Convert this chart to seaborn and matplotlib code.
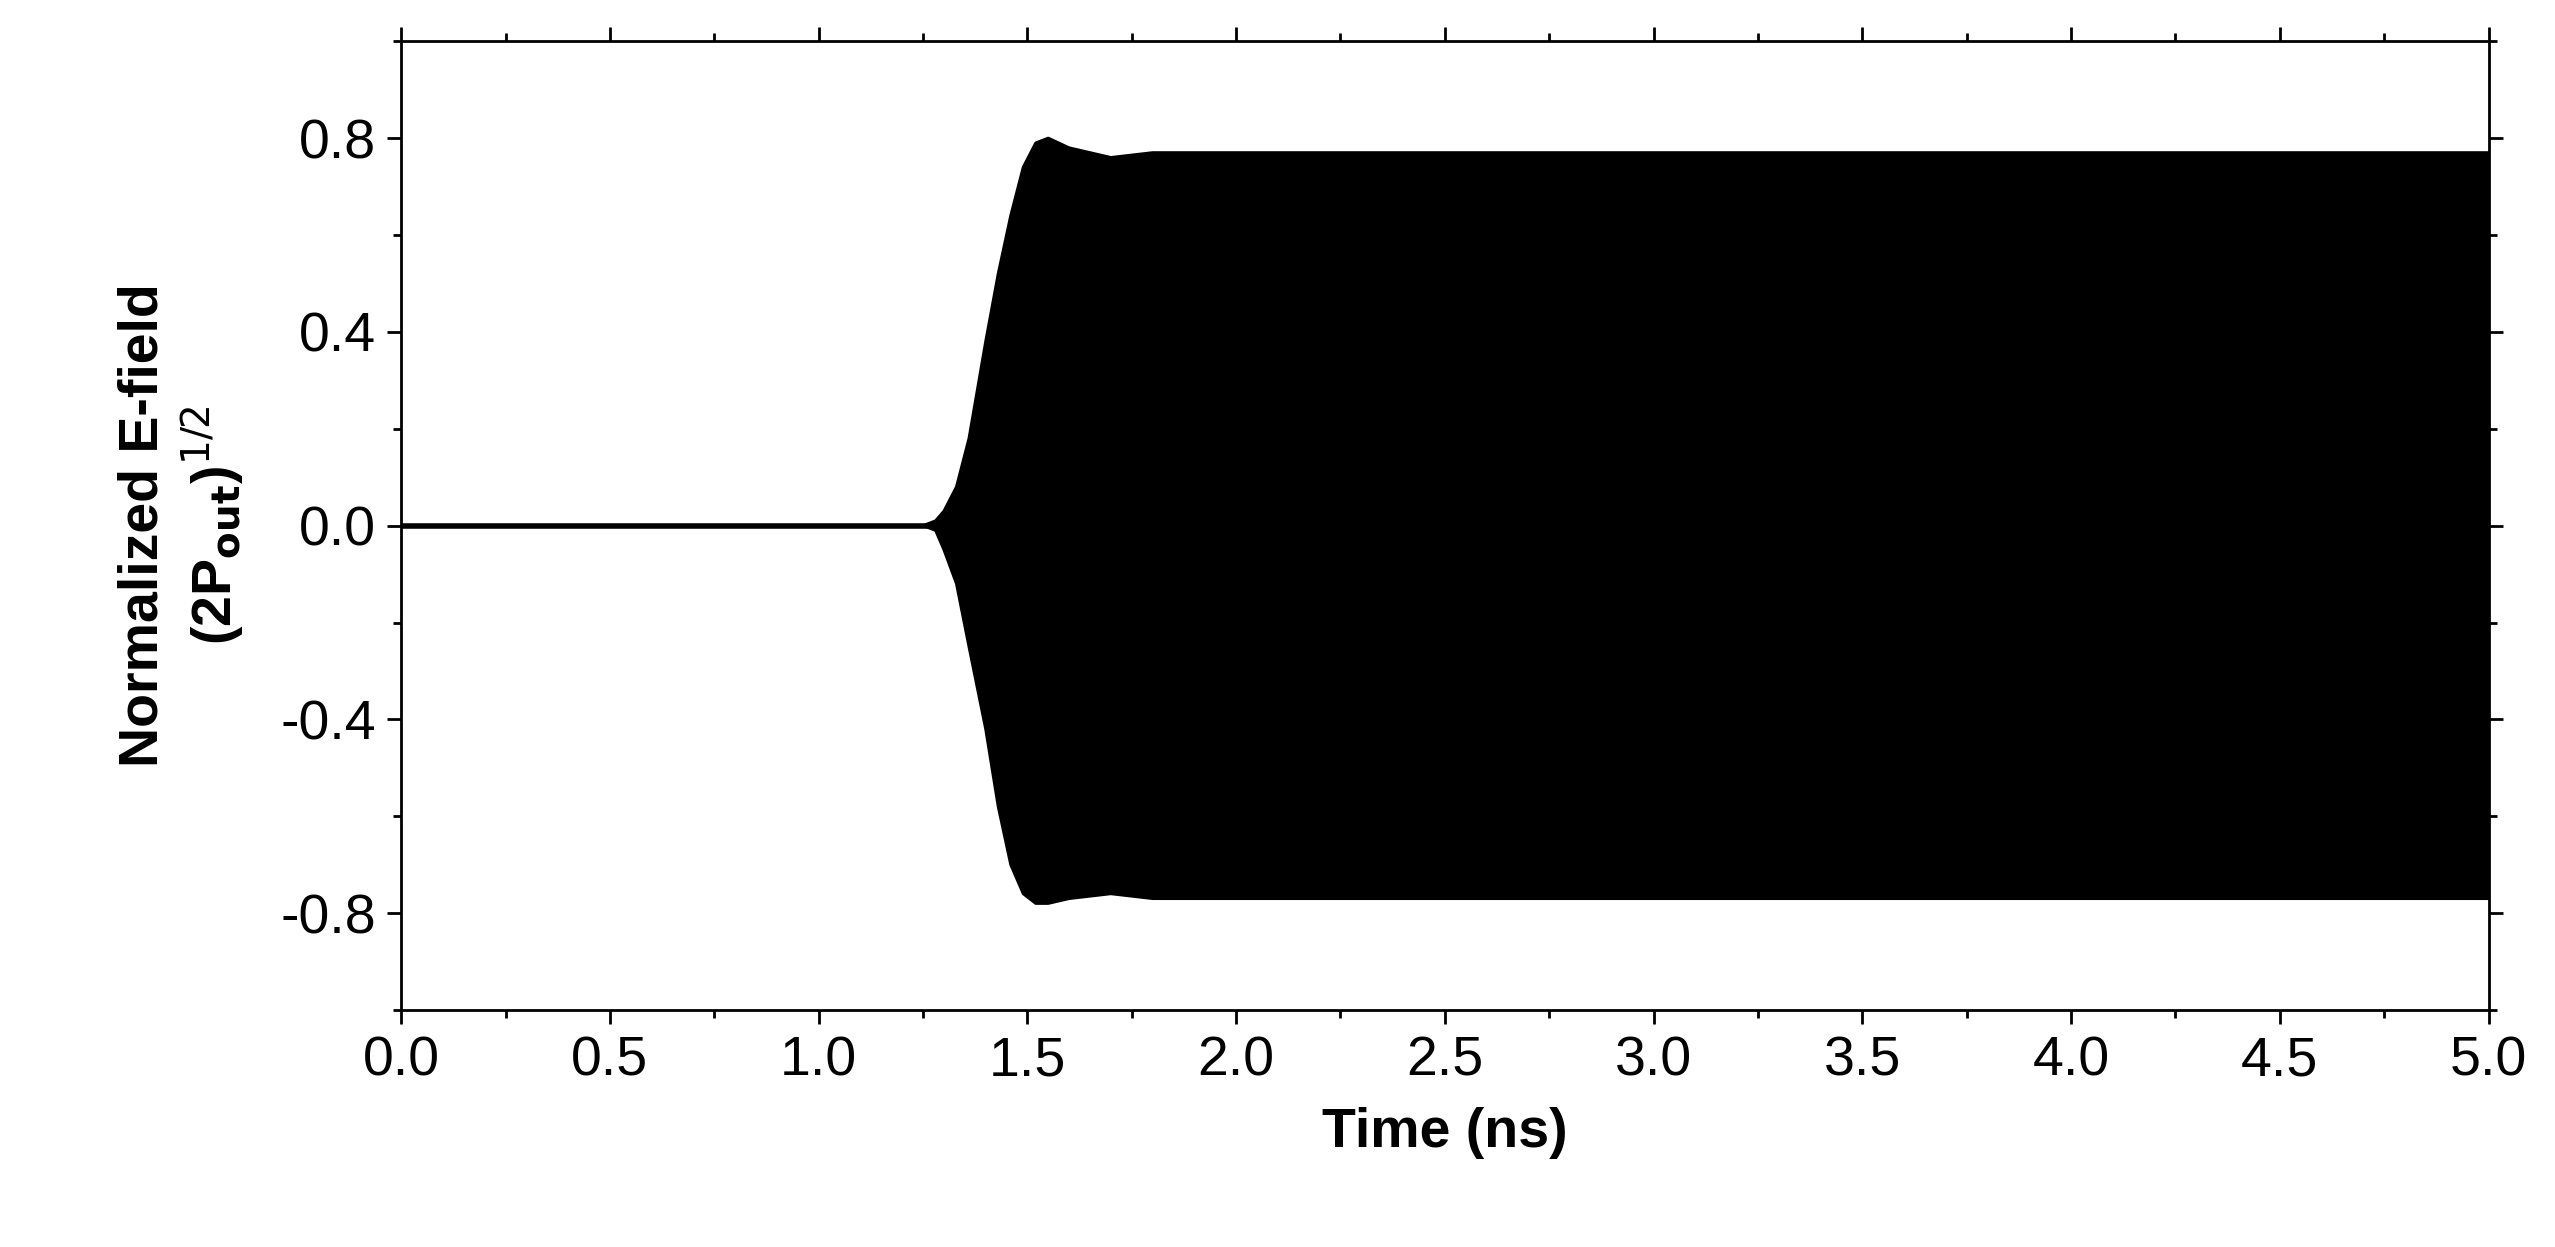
import matplotlib
matplotlib.use("Agg")
import matplotlib.pyplot as plt
import seaborn as sns
import pandas as pd
from matplotlib.ticker import MultipleLocator

sns.set_theme(style="ticks")
plt.rcParams['font.family'] = ['Liberation Sans', 'DejaVu Sans']
plt.rcParams['axes.unicode_minus'] = False
plt.rcParams['text.color'] = 'black'
plt.rcParams['axes.labelcolor'] = 'black'
plt.rcParams['xtick.color'] = 'black'
plt.rcParams['ytick.color'] = 'black'

# Envelope of the oscillating E-field
time_ns = [0.0, 1.2, 1.25, 1.28, 1.3, 1.33, 1.36, 1.4, 1.43, 1.46, 1.49, 1.52, 1.55, 1.6, 1.7, 1.8, 2.0, 2.5, 3.0, 3.5, 4.0, 4.5, 5.0]
upper = [0.0, 0.0, 0.0, 0.01, 0.03, 0.08, 0.18, 0.38, 0.52, 0.64, 0.74, 0.79, 0.80, 0.78, 0.76, 0.77, 0.77, 0.77, 0.77, 0.77, 0.77, 0.77, 0.77]
lower = [0.0, 0.0, 0.0, -0.01, -0.05, -0.12, -0.25, -0.42, -0.58, -0.7, -0.76, -0.78, -0.78, -0.77, -0.76, -0.77, -0.77, -0.77, -0.77, -0.77, -0.77, -0.77, -0.77]
df = pd.DataFrame({"t": time_ns, "up": upper, "lo": lower})

fig = plt.figure(figsize=(25.55, 12.47), dpi=100)
ax = fig.add_axes([0.157, 0.19, 0.817, 0.777])
ax.fill_between(df["t"], df["lo"], df["up"], color="black", linewidth=0)
sns.lineplot(data=df, x="t", y="up", color="black", lw=2, ax=ax)
sns.lineplot(data=df, x="t", y="lo", color="black", lw=2, ax=ax)
ax.plot([0, 1.3], [0, 0], color="black", lw=4)

ax.set_xlim(0, 5)
ax.set_ylim(-1, 1)
ax.xaxis.set_major_locator(MultipleLocator(0.5))
ax.xaxis.set_minor_locator(MultipleLocator(0.25))
ax.yaxis.set_minor_locator(MultipleLocator(0.2))
ax.set_yticks([-0.8, -0.4, 0.0, 0.4, 0.8])
ax.tick_params(which="both", direction="out", top=True, right=True, labeltop=False, labelright=False, width=2, color="black")
ax.tick_params(which="major", length=10, labelsize=40, pad=8)
ax.tick_params(which="minor", length=6)
for s in ax.spines.values():
    s.set_linewidth(2); s.set_color("black")
ax.set_xlabel("Time (ns)", fontsize=40, fontweight="bold", labelpad=14)
ax.set_ylabel("Normalized E-field\n(2P$_{\\mathbf{out}}$)$^{1/2}$", fontsize=40, fontweight="bold", labelpad=24)
fig.savefig("out.png", dpi=100)
